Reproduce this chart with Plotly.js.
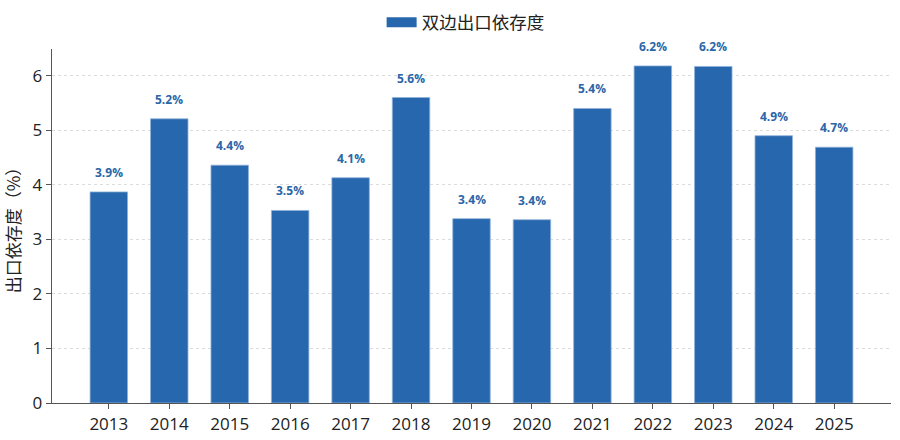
<!DOCTYPE html>
<html>
<head>
<meta charset="utf-8">
<script src="https://cdn.plot.ly/plotly-3.0.1.min.js"></script>
<style>html,body{margin:0;padding:0;background:#fff;}#chart{width:900px;height:440px;}</style>
</head>
<body>
<div id="chart"></div>
<script>
var years = ['2013','2014','2015','2016','2017','2018','2019','2020','2021','2022','2023','2024','2025'];
var values = [3.87, 5.21, 4.36, 3.53, 4.13, 5.60, 3.38, 3.36, 5.40, 6.18, 6.17, 4.90, 4.69];
var labels = ['3.9%','5.2%','4.4%','3.5%','4.1%','5.6%','3.4%','3.4%','5.4%','6.2%','6.2%','4.9%','4.7%'];
var seriesName = '双边出口依存度';
var yTitle = '出口依存度（%）';

var FONT = '"Noto Sans CJK SC", "Noto Sans", sans-serif';
var NUMFONT = '"Open Sans", "Noto Sans CJK SC", sans-serif';
var barColor = '#2767ad';

var trace = {
  type: 'bar',
  x: years,
  y: values,
  name: seriesName,
  showlegend: false,
  width: 0.62,
  marker: {color: barColor, line: {color: '#8fb3dc', width: 0.8}},
  hoverinfo: 'x+y'
};

// legend entry drawn as a wide swatch (same series, no extra data)
var legendEntry = {
  type: 'scatter', mode: 'lines',
  x: [null], y: [null],
  name: seriesName,
  showlegend: true,
  line: {color: barColor, width: 12},
  hoverinfo: 'skip'
};

// category axis: annotation x uses the category index
var annotations = years.map(function(yr, i){
  return {
    x: i, y: values[i], xref: 'x', yref: 'y',
    text: '<b>' + labels[i] + '</b>',
    showarrow: false, yanchor: 'bottom', yshift: 9,
    font: {family: NUMFONT, size: 12, color: '#2a66a8'}
  };
});

var layout = {
  width: 900, height: 440,
  margin: {l: 52, r: 9, t: 49, b: 37},
  paper_bgcolor: '#fff', plot_bgcolor: '#fff',
  font: {family: FONT, color: '#222'},
  showlegend: true,
  legend: {
    orientation: 'h', x: 0.493, xanchor: 'center', y: 0.99, yanchor: 'top',
    yref: 'container', itemwidth: 30,
    font: {family: FONT, size: 17.5, color: '#222'}
  },
  xaxis: {
    type: 'category',
    range: [-0.94, 12.94],
    showline: true, linecolor: '#555', linewidth: 1.3,
    ticks: 'outside', ticklen: 5, tickcolor: '#555',
    showgrid: false, zeroline: false,
    tickfont: {family: NUMFONT, size: 17, color: '#222'}
  },
  yaxis: {
    range: [0, 6.49],
    dtick: 1, tick0: 0,
    showline: true, linecolor: '#555', linewidth: 1.3,
    ticks: 'outside', ticklen: 5, tickcolor: '#555',
    showgrid: true, gridcolor: '#dcdcdc', griddash: 'dot', gridwidth: 1,
    zeroline: false,
    tickfont: {family: NUMFONT, size: 17, color: '#222'},
    title: {text: yTitle, font: {family: FONT, size: 17, color: '#222'}, standoff: 8}
  },
  annotations: annotations
};

Plotly.newPlot('chart', [trace, legendEntry], layout, {displayModeBar: false, staticPlot: true});
</script>
</body>
</html>
